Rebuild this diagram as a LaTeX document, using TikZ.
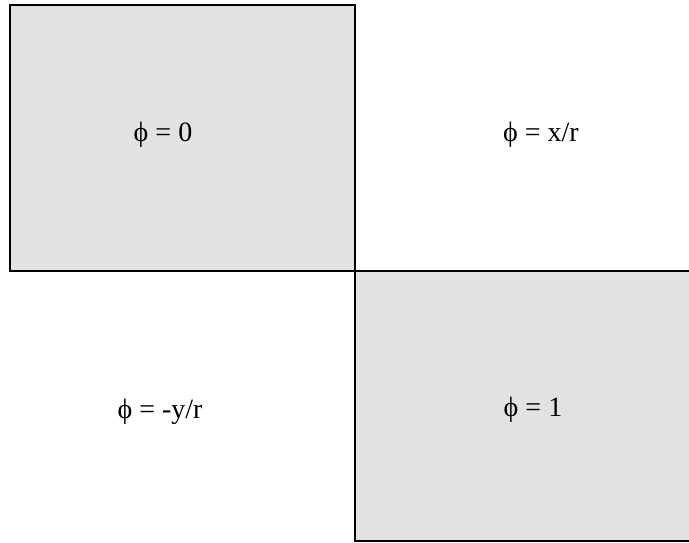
\documentclass[tikz,border=0pt]{standalone}
\usepackage{fontspec}
\setmainfont{Liberation Serif}
\usetikzlibrary{positioning}
\definecolor{cellfill}{RGB}{226,226,226}
\tikzset{
  cell/.style={rectangle,draw,fill=cellfill,line width=2pt,inner sep=0pt,outer sep=0pt},
  phitext/.style={font=\fontsize{28}{32}\selectfont},
}
\begin{document}
\begin{tikzpicture}[x=1pt,y=-1pt]
  \clip (0,0) rectangle (689,543);
  \node[cell,minimum width=345pt,minimum height=266pt] (zerocell) at (182.5,138) {};
  \node[cell,minimum width=354pt,minimum height=270pt,anchor=north west] (onecell) at (zerocell.south east) {};
  \node[phitext] (zero) at (163,135) {ϕ = 0};
  \node[phitext] (one) at (533,410) {ϕ = 1};
  \node[phitext] (xr) at (541,135) {ϕ = x/r};
  \node[phitext] (yr) at (160,412) {ϕ = -y/r};
\end{tikzpicture}
\end{document}
